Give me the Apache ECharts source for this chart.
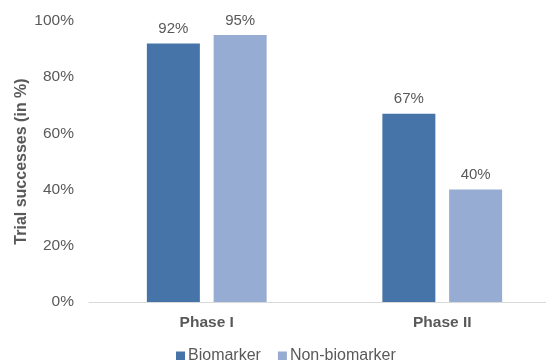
<!DOCTYPE html>
<html>
<head>
<meta charset="utf-8">
<script src="https://cdn.jsdelivr.net/npm/echarts@6/dist/echarts.min.js"></script>
<style>
  html, body { margin: 0; padding: 0; background: #fff; }
  #chart { width: 546px; height: 360px; }
</style>
</head>
<body>
<div id="chart"></div>
<script>
// chart data
var phases = ['Phase I', 'Phase II'];
var biomarker = [92, 67];
var nonBiomarker = [95, 40];
var seriesNames = ['Biomarker', 'Non-biomarker'];

var myChart = echarts.init(document.getElementById('chart'));
var textGray = '#595959';
var font = '"Liberation Sans", Arial, sans-serif';

var labelOpt = {
  show: true,
  position: 'top',
  distance: 7,
  color: textGray,
  fontSize: 15,
  fontFamily: font,
  formatter: '{c}%'
};

var option = {
  animation: false,
  textStyle: { fontFamily: font },
  grid: {
    left: 89,
    width: 471,
    top: 21,
    bottom: 58,
    outerBoundsMode: 'none'
  },
  legend: {
    data: seriesNames,
    left: 171,
    top: 343,
    itemWidth: 9,
    itemHeight: 9,
    itemGap: 17,
    icon: 'rect',
    textStyle: { color: textGray, fontSize: 16, fontFamily: font, padding: [0, 0, 0, -2] }
  },
  xAxis: {
    type: 'category',
    data: phases,
    axisLine: { lineStyle: { color: '#D9D9D9', width: 1 } },
    axisTick: { show: false },
    axisLabel: {
      color: textGray,
      fontSize: 15.5,
      fontWeight: 'bold',
      fontFamily: font,
      margin: 13
    }
  },
  yAxis: {
    type: 'value',
    min: 0,
    max: 100,
    interval: 20,
    name: 'Trial successes (in %)',
    nameLocation: 'middle',
    nameGap: 59,
    nameMoveOverlap: false,
    nameTextStyle: {
      color: textGray,
      fontSize: 16,
      fontWeight: 'bold',
      fontFamily: font
    },
    axisLine: { show: false },
    axisTick: { show: false },
    splitLine: { show: false },
    axisLabel: {
      color: textGray,
      fontSize: 15.5,
      fontFamily: font,
      margin: 15,
      formatter: '{value}%'
    }
  },
  series: [
    {
      name: seriesNames[0],
      type: 'bar',
      data: biomarker,
      barWidth: 53,
      barGap: '26%',
      itemStyle: { color: '#4674A8' },
      label: labelOpt
    },
    {
      name: seriesNames[1],
      type: 'bar',
      data: nonBiomarker,
      barWidth: 53,
      barGap: '26%',
      itemStyle: { color: '#97ACD3' },
      label: labelOpt
    }
  ]
};
myChart.setOption(option);
</script>
</body>
</html>
